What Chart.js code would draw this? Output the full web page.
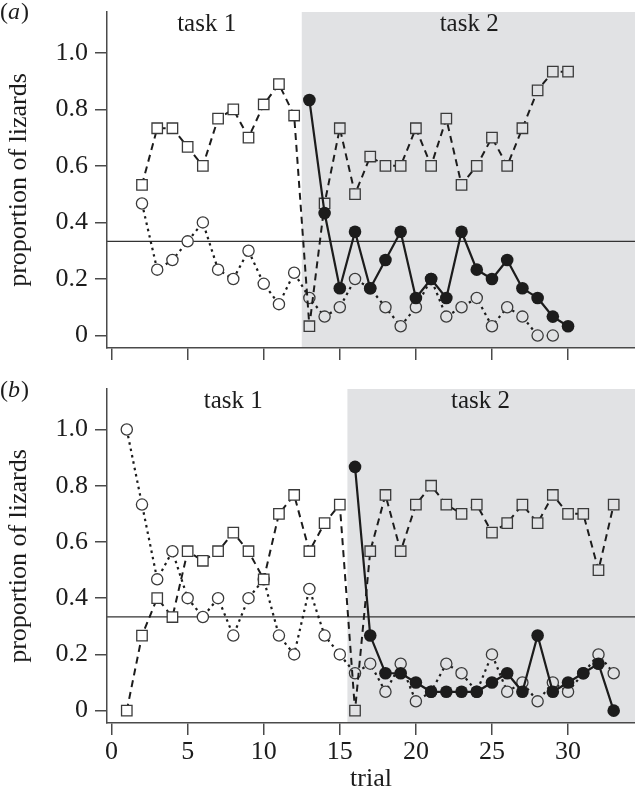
<!DOCTYPE html>
<html>
<head>
<meta charset="utf-8">
<script src="https://cdn.jsdelivr.net/npm/chart.js@4.4.1/dist/chart.umd.min.js"></script>
<style>
  body { margin: 0; background: #fff; width: 635px; height: 798px; overflow: hidden; position: relative; }
  canvas { position: absolute; left: 0; }
  #chartA { top: 0; }
  #chartB { top: 378px; }
</style>
</head>
<body>
<canvas id="chartA" width="635" height="378"></canvas>
<canvas id="chartB" width="635" height="420"></canvas>
<script>
// panel (a)
const squareTrialsA = [2, 3, 4, 5, 6, 7, 8, 9, 10, 11, 12, 13, 14, 15, 16, 17, 18, 19, 20, 21, 22, 23, 24, 25, 26, 27, 28, 29, 30];
const squaresA = [0.533, 0.733, 0.733, 0.667, 0.6, 0.767, 0.8, 0.7, 0.817, 0.889, 0.778, 0.033, 0.467, 0.733, 0.5, 0.633, 0.6, 0.6, 0.733, 0.6, 0.767, 0.533, 0.6, 0.7, 0.6, 0.733, 0.867, 0.933, 0.933];
const circleTrialsA = [2, 3, 4, 5, 6, 7, 8, 9, 10, 11, 12, 13, 14, 15, 16, 17, 18, 19, 20, 21, 22, 23, 24, 25, 26, 27, 28, 29];
const circlesA = [0.467, 0.233, 0.267, 0.333, 0.4, 0.233, 0.2, 0.3, 0.183, 0.111, 0.222, 0.133, 0.067, 0.1, 0.2, 0.167, 0.1, 0.033, 0.1, 0.2, 0.067, 0.1, 0.133, 0.033, 0.1, 0.067, 0, 0];
const filledTrialsA = [13, 14, 15, 16, 17, 18, 19, 20, 21, 22, 23, 24, 25, 26, 27, 28, 29, 30];
const filledA = [0.833, 0.433, 0.167, 0.367, 0.167, 0.267, 0.367, 0.133, 0.2, 0.133, 0.367, 0.233, 0.2, 0.267, 0.167, 0.133, 0.067, 0.033];

// panel (b)
const squareTrialsB = [1, 2, 3, 4, 5, 6, 7, 8, 9, 10, 11, 12, 13, 14, 15, 16, 17, 18, 19, 20, 21, 22, 23, 24, 25, 26, 27, 28, 29, 30, 31, 32, 33];
const squaresB = [0, 0.267, 0.4, 0.333, 0.567, 0.533, 0.567, 0.633, 0.567, 0.467, 0.7, 0.767, 0.567, 0.667, 0.733, 0, 0.567, 0.767, 0.567, 0.733, 0.8, 0.733, 0.7, 0.733, 0.633, 0.667, 0.733, 0.667, 0.767, 0.7, 0.7, 0.5, 0.733];
const circleTrialsB = squareTrialsB;
const circlesB = [1.0, 0.733, 0.467, 0.567, 0.4, 0.333, 0.4, 0.267, 0.4, 0.467, 0.267, 0.2, 0.433, 0.267, 0.2, 0.133, 0.167, 0.067, 0.167, 0.033, 0.067, 0.167, 0.133, 0.067, 0.2, 0.067, 0.1, 0.033, 0.1, 0.067, 0.133, 0.2, 0.133];
const filledTrialsB = [16, 17, 18, 19, 20, 21, 22, 23, 24, 25, 26, 27, 28, 29, 30, 31, 32, 33];
const filledB = [0.867, 0.267, 0.133, 0.133, 0.1, 0.067, 0.067, 0.067, 0.067, 0.1, 0.133, 0.067, 0.267, 0.067, 0.1, 0.133, 0.167, 0];

// axes and annotations
const xTicks = [0, 5, 10, 15, 20, 25, 30];
const yTicks = [0, 0.2, 0.4, 0.6, 0.8, 1.0];
const yTickLabels = ['0', '0.2', '0.4', '0.6', '0.8', '1.0'];
const chanceLevel = 1 / 3;
const taskLabels = ['task 1', 'task 2'];
const taskLabelTrialsA = [6.25, 23.5];
const taskLabelTrialsB = [8, 24.25];
const taskSwitchA = 12.5;
const taskSwitchB = 15.5;

const SERIF = '"Liberation Serif", "DejaVu Serif", serif';
const INK = '#1c1c1c';
const AXIS = '#4a4a4a';
const SHADE = '#e1e2e4';

const toPoints = (xs, ys) => xs.map((x, i) => ({ x: x, y: ys[i] }));

// shaded task 2 region, chance line, task labels, panel letter
const panelDecor = {
  id: 'panelDecor',
  beforeDraw(chart, args, o) {
    const { ctx, chartArea: a, scales: { x, y } } = chart;
    ctx.save();
    const sx = x.getPixelForValue(o.switchAt);
    ctx.fillStyle = SHADE;
    ctx.fillRect(sx, a.top, a.right - sx, a.bottom - a.top);

    const hy = y.getPixelForValue(chanceLevel);
    ctx.strokeStyle = '#333';
    ctx.lineWidth = 1.3;
    ctx.beginPath();
    ctx.moveTo(a.left, hy);
    ctx.lineTo(a.right, hy);
    ctx.stroke();

    ctx.fillStyle = INK;
    ctx.font = '25px ' + SERIF;
    ctx.textAlign = 'center';
    ctx.textBaseline = 'middle';
    o.labelTrials.forEach((t, i) => {
      ctx.fillText(taskLabels[i], x.getPixelForValue(t), y.getPixelForValue(1.1));
    });

    ctx.textAlign = 'left';
    ctx.font = '24px ' + SERIF;
    ctx.fillText('(', 0, 13);
    let w = ctx.measureText('(').width;
    ctx.font = 'italic 24px ' + SERIF;
    ctx.fillText(o.letter, w, 13);
    w += ctx.measureText(o.letter).width;
    ctx.font = '24px ' + SERIF;
    ctx.fillText(')', w + 1, 13);
    ctx.restore();
  }
};

function makePanel(id, cfg) {
  const bg = (c) => (c.raw && c.raw.x > cfg.switchAt) ? SHADE : '#fff';
  return new Chart(document.getElementById(id), {
    type: 'line',
    data: {
      datasets: [
        {
          data: toPoints(cfg.filledTrials, cfg.filled),
          borderColor: INK,
          borderWidth: 2.2,
          pointStyle: 'circle',
          pointRadius: 6.3,
          pointBackgroundColor: INK,
          pointBorderColor: INK,
          pointBorderWidth: 0,
          order: 0
        },
        {
          data: toPoints(cfg.squareTrials, cfg.squares),
          borderColor: INK,
          borderWidth: 2,
          borderDash: [7, 5],
          pointStyle: 'rect',
          pointRadius: 7.4,
          pointBackgroundColor: bg,
          pointBorderColor: '#3a3a3a',
          pointBorderWidth: 1.3,
          order: 1
        },
        {
          data: toPoints(cfg.circleTrials, cfg.circles),
          borderColor: INK,
          borderWidth: 2.2,
          borderDash: [2.5, 4],
          pointStyle: 'circle',
          pointRadius: 5.6,
          pointBackgroundColor: bg,
          pointBorderColor: '#3a3a3a',
          pointBorderWidth: 1.3,
          order: 2
        }
      ]
    },
    options: {
      responsive: false,
      animation: false,
      devicePixelRatio: 1,
      layout: { autoPadding: false, padding: { top: cfg.top, left: 0, right: 0, bottom: 0 } },
      plugins: {
        legend: { display: false },
        tooltip: { enabled: false },
        panelDecor: { switchAt: cfg.switchAt, labelTrials: cfg.labelTrials, letter: cfg.letter }
      },
      scales: {
        x: {
          type: 'linear',
          min: -0.3,
          max: 34.4,
          afterBuildTicks: (s) => { s.ticks = xTicks.map(v => ({ value: v })); },
          afterFit: (s) => { s.height = cfg.xAxisHeight; s.paddingLeft = 0; s.paddingRight = 0; },
          grid: { drawOnChartArea: false, tickLength: 12, color: AXIS, lineWidth: 1.5 },
          border: { display: true, color: AXIS, width: 1.5 },
          ticks: { display: cfg.showX, autoSkip: false, maxRotation: 0, padding: 2, color: INK, font: { family: SERIF, size: 26 } },
          title: { display: cfg.showX, text: 'trial', color: INK, font: { family: SERIF, size: 26 }, padding: { top: 0, bottom: 3 } }
        },
        y: {
          min: -0.044,
          max: 1.144,
          afterBuildTicks: (s) => { s.ticks = yTicks.map(v => ({ value: v })); },
          afterFit: (s) => { s.width = 107; s.paddingTop = 0; s.paddingBottom = 0; },
          grid: { drawOnChartArea: false, tickLength: 12, color: AXIS, lineWidth: 1.5 },
          border: { display: true, color: AXIS, width: 1.5 },
          ticks: { padding: 7, color: INK, font: { family: SERIF, size: 26 }, callback: (v, i) => yTickLabels[i] },
          title: { display: true, text: 'proportion of lizards', color: INK, font: { family: SERIF, size: 26 }, padding: { top: 4, bottom: 0 } }
        }
      }
    },
    plugins: [panelDecor]
  });
}

makePanel('chartA', {
  letter: 'a', top: 12, xAxisHeight: 30, showX: false,
  switchAt: taskSwitchA, labelTrials: taskLabelTrialsA,
  squareTrials: squareTrialsA, squares: squaresA,
  circleTrials: circleTrialsA, circles: circlesA,
  filledTrials: filledTrialsA, filled: filledA
});

makePanel('chartB', {
  letter: 'b', top: 11, xAxisHeight: 75, showX: true,
  switchAt: taskSwitchB, labelTrials: taskLabelTrialsB,
  squareTrials: squareTrialsB, squares: squaresB,
  circleTrials: circleTrialsB, circles: circlesB,
  filledTrials: filledTrialsB, filled: filledB
});
</script>
</body>
</html>
